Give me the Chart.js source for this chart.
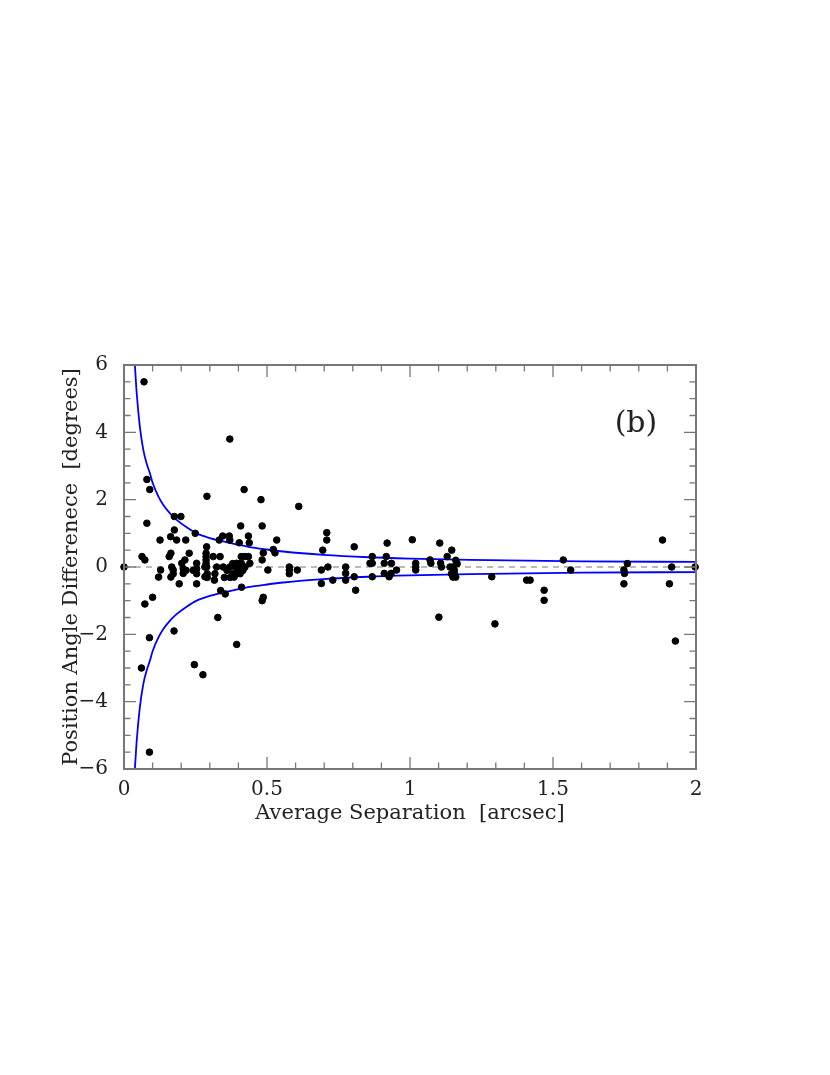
<!DOCTYPE html>
<html>
<head>
<meta charset="utf-8">
<script src="https://cdn.jsdelivr.net/npm/chart.js@4/dist/chart.umd.min.js"></script>
<style>
  html, body { margin: 0; padding: 0; background: #fff; }
  #wrap { width: 830px; height: 1075px; position: relative; }
</style>
</head>
<body>
<div id="wrap"><canvas id="paChart" width="830" height="1075"></canvas></div>
<script>
(function () {
    "use strict";

    // measured binaries: average separation [arcsec] and position angle difference [deg]
    var sepX = [
        0, 0.07, 0.08, 0.09, 0.08, 0.063, 0.073, 0.073, 0.10, 0.089, 0.061, 0.089, 0.126, 0.128, 0.121,
        0.176, 0.199, 0.176, 0.249, 0.163, 0.184, 0.216, 0.164, 0.158, 0.228, 0.202, 0.213, 0.254,
        0.167, 0.207, 0.217, 0.242, 0.254, 0.172, 0.172, 0.207, 0.254, 0.164, 0.193, 0.254,
        0.175, 0.246, 0.276,
        0.29, 0.37, 0.42, 0.408, 0.333, 0.345, 0.368, 0.37, 0.403, 0.435, 0.438, 0.289,
        0.287, 0.287, 0.287, 0.287, 0.312, 0.336, 0.41, 0.423, 0.435, 0.394, 0.41, 0.44,
        0.283, 0.289, 0.324, 0.347, 0.36, 0.37, 0.38, 0.39, 0.40, 0.423, 0.416, 0.406,
        0.291, 0.291, 0.318, 0.283, 0.351, 0.371, 0.38, 0.385, 0.39, 0.316,
        0.338, 0.354, 0.411, 0.328, 0.394,
        0.479, 0.483, 0.534, 0.522, 0.528, 0.487, 0.483, 0.503, 0.487, 0.483,
        0.578, 0.578, 0.578, 0.606, 0.611,
        0.709, 0.709, 0.695, 0.713, 0.69, 0.69, 0.73, 0.775, 0.775, 0.775, 0.805, 0.805, 0.81,
        0.868, 0.868, 0.86, 0.868, 0.92, 0.917, 0.91, 0.935, 0.91, 0.927, 0.934, 0.953,
        1.008, 1.02, 1.02, 1.02, 1.07, 1.073, 1.104, 1.101, 1.107, 1.11, 1.13, 1.146,
        1.14, 1.15, 1.155, 1.145, 1.15, 1.16, 1.16, 1.165, 1.155,
        1.286, 1.297, 1.408, 1.42, 1.469, 1.469, 1.536, 1.562, 1.748, 1.75, 1.748, 1.76,
        1.883, 1.915, 1.907, 1.928, 1.997
    ];
    var paDiff = [
        0, 5.5, 2.6, 2.3, 1.3, 0.31, 0.21, -1.1, -0.9, -2.1, -3.0, -5.5, 0.8, -0.09, -0.3,
        1.5, 1.5, 1.1, 1.0, 0.9, 0.8, 0.8, 0.41, 0.31, 0.41, 0.11, 0.21, 0.11,
        0, -0.05, -0.1, -0.1, -0.05, -0.09, -0.2, -0.19, -0.2, -0.3, -0.5, -0.5,
        -1.9, -2.9, -3.2,
        2.1, 3.8, 2.3, 1.22, 0.8, 0.92, 0.92, 0.8, 0.72, 0.92, 0.72, 0.6,
        0.41, 0.31, 0.21, 0.11, 0.31, 0.31, 0.31, 0.31, 0.31, 0.11, 0.11, 0.11,
        0, 0, 0, 0, -0.1, 0, 0.1, 0, -0.05, 0, -0.1, -0.2,
        -0.2, -0.31, -0.2, -0.29, -0.31, -0.31, -0.2, -0.3, -0.2, -0.39,
        -0.7, -0.8, -0.6, -1.5, -2.3,
        2.0, 1.22, 0.8, 0.52, 0.42, 0.42, 0.21, -0.09, -0.9, -1.0,
        0.0, -0.09, -0.2, -0.09, 1.8,
        1.02, 0.8, 0.5, 0, -0.09, -0.49, -0.39, 0, -0.19, -0.39, 0.6, -0.29, -0.69,
        0.31, 0.11, 0.11, -0.29, 0.71, 0.31, 0.11, 0.11, -0.19, -0.29, -0.19, -0.09,
        0.81, 0.11, 0, -0.09, 0.21, 0.11, 0.71, -1.49, 0.11, 0, 0.31, 0.5,
        0.0, 0.0, -0.1, -0.2, -0.3, -0.3, 0.2, 0.1, -0.2,
        -0.29, -1.69, -0.39, -0.39, -0.69, -0.99, 0.21, -0.09, -0.09, -0.19, -0.5, 0.1,
        0.8, 0.0, -0.5, -2.2, 0.0
    ];

    // envelope curves
    var envX     = [0.038, 0.045, 0.055, 0.067, 0.08, 0.09, 0.1, 0.12, 0.137, 0.16, 0.184, 0.219, 0.254, 0.3, 0.336, 0.406, 0.435, 0.5, 0.557, 0.697, 0.854, 1.0, 1.21, 1.6, 2.0];
    var envUpper = [6.0, 5.1, 4.2, 3.5, 3.05, 2.8, 2.5, 2.1, 1.85, 1.6, 1.4, 1.18, 1.0, 0.86, 0.78, 0.65, 0.6, 0.52, 0.46, 0.36, 0.29, 0.25, 0.21, 0.17, 0.15];
    var envLower = [-6.0, -5.1, -4.2, -3.5, -3.05, -2.8, -2.5, -2.1, -1.85, -1.6, -1.4, -1.18, -1.0, -0.86, -0.78, -0.65, -0.6, -0.52, -0.46, -0.36, -0.29, -0.25, -0.21, -0.17, -0.15];

    var zeroX = [0, 2];
    var zeroY = [0, 0];

    var xTickLabels = ['0', '0.5', '1', '1.5', '2'];
    var yTickLabels = ['\u22126', '\u22124', '\u22122', '0', '2', '4', '6'];

    var panelLabel = '(b)';
    var panelPos = { x: 1.79, y: 4.25 };

    var FONT = '"DejaVu Serif", "Liberation Serif", serif';
    var TEXT = '#222';
    var FRAME = '#777';

    function pairs(xs, ys) {
        return xs.map(function (x, i) { return { x: x, y: ys[i] }; });
    }

    function isMultiple(v, step) {
        var r = v / step;
        return Math.abs(r - Math.round(r)) < 1e-6;
    }

    // frame with inward ticks on all four sides, plus the panel tag
    var framePlugin = {
        id: 'frame',
        afterDatasetsDraw: function (chart) {
            var ctx = chart.ctx;
            var a = chart.chartArea;
            var xs = chart.scales.x;
            var ys = chart.scales.y;
            ctx.save();
            ctx.strokeStyle = FRAME;
            ctx.lineWidth = 1.3;
            ctx.beginPath();
            xs.ticks.forEach(function (t) {
                var px = xs.getPixelForValue(t.value);
                var len = isMultiple(t.value, 0.5) ? 12 : 6.5;
                ctx.moveTo(px, a.bottom); ctx.lineTo(px, a.bottom - len);
                ctx.moveTo(px, a.top); ctx.lineTo(px, a.top + len);
            });
            ys.ticks.forEach(function (t) {
                var py = ys.getPixelForValue(t.value);
                var len = isMultiple(t.value, 2) ? 12 : 6.5;
                ctx.moveTo(a.left, py); ctx.lineTo(a.left + len, py);
                ctx.moveTo(a.right, py); ctx.lineTo(a.right - len, py);
            });
            ctx.stroke();
            ctx.lineWidth = 2;
            ctx.strokeRect(a.left, a.top, a.right - a.left, a.bottom - a.top);

            ctx.fillStyle = TEXT;
            ctx.font = '30px ' + FONT;
            ctx.textAlign = 'center';
            ctx.textBaseline = 'middle';
            ctx.fillText(panelLabel, xs.getPixelForValue(panelPos.x), ys.getPixelForValue(panelPos.y));
            ctx.restore();
        }
    };

    var ctx = document.getElementById('paChart').getContext('2d');
    new Chart(ctx, {
        type: 'scatter',
        data: {
            datasets: [
                {
                    label: 'binaries',
                    data: pairs(sepX, paDiff),
                    backgroundColor: '#000',
                    borderColor: '#000',
                    pointRadius: 3.3,
                    pointHoverRadius: 3.3,
                    clip: false,
                    order: 0
                },
                {
                    label: 'upper',
                    data: pairs(envX, envUpper),
                    showLine: true,
                    borderColor: '#0000ff',
                    borderWidth: 1.8,
                    pointRadius: 0,
                    cubicInterpolationMode: 'monotone',
                    fill: false,
                    order: 1
                },
                {
                    label: 'lower',
                    data: pairs(envX, envLower),
                    showLine: true,
                    borderColor: '#0000ff',
                    borderWidth: 1.8,
                    pointRadius: 0,
                    cubicInterpolationMode: 'monotone',
                    fill: false,
                    order: 1
                },
                {
                    label: 'zero',
                    data: pairs(zeroX, zeroY),
                    showLine: true,
                    borderColor: '#777',
                    borderWidth: 1.2,
                    borderDash: [6, 5],
                    pointRadius: 0,
                    fill: false,
                    order: 2
                }
            ]
        },
        options: {
            responsive: false,
            animation: false,
            events: [],
            layout: { padding: { left: 0, right: 134, top: 365, bottom: 226 } },
            plugins: {
                legend: { display: false },
                tooltip: { enabled: false }
            },
            scales: {
                x: {
                    type: 'linear',
                    min: 0,
                    max: 2,
                    grid: { display: false },
                    border: { display: false },
                    afterFit: function (s) { s.height = 80; },
                    ticks: {
                        stepSize: 0.1,
                        autoSkip: false,
                        maxRotation: 0,
                        padding: 1,
                        color: TEXT,
                        font: { family: FONT, size: 20 },
                        callback: function (v) {
                            return isMultiple(v, 0.5) ? xTickLabels[Math.round(v / 0.5)] : '';
                        }
                    },
                    title: {
                        display: true,
                        text: 'Average Separation  [arcsec]',
                        color: TEXT,
                        font: { family: FONT, size: 21 },
                        padding: { top: 0, bottom: 23 }
                    }
                },
                y: {
                    type: 'linear',
                    min: -6,
                    max: 6,
                    grid: { display: false },
                    border: { display: false },
                    afterFit: function (s) { s.width = 124; },
                    ticks: {
                        stepSize: 0.5,
                        autoSkip: false,
                        padding: 8,
                        color: TEXT,
                        font: { family: FONT, size: 20 },
                        callback: function (v) {
                            return isMultiple(v, 2) ? yTickLabels[Math.round((v + 6) / 2)] : '';
                        }
                    },
                    title: {
                        display: true,
                        text: 'Position Angle Differenece  [degrees]',
                        color: TEXT,
                        font: { family: FONT, size: 21 },
                        padding: { top: 59, bottom: 0 }
                    }
                }
            }
        },
        plugins: [framePlugin]
    });
}());
</script>
</body>
</html>
